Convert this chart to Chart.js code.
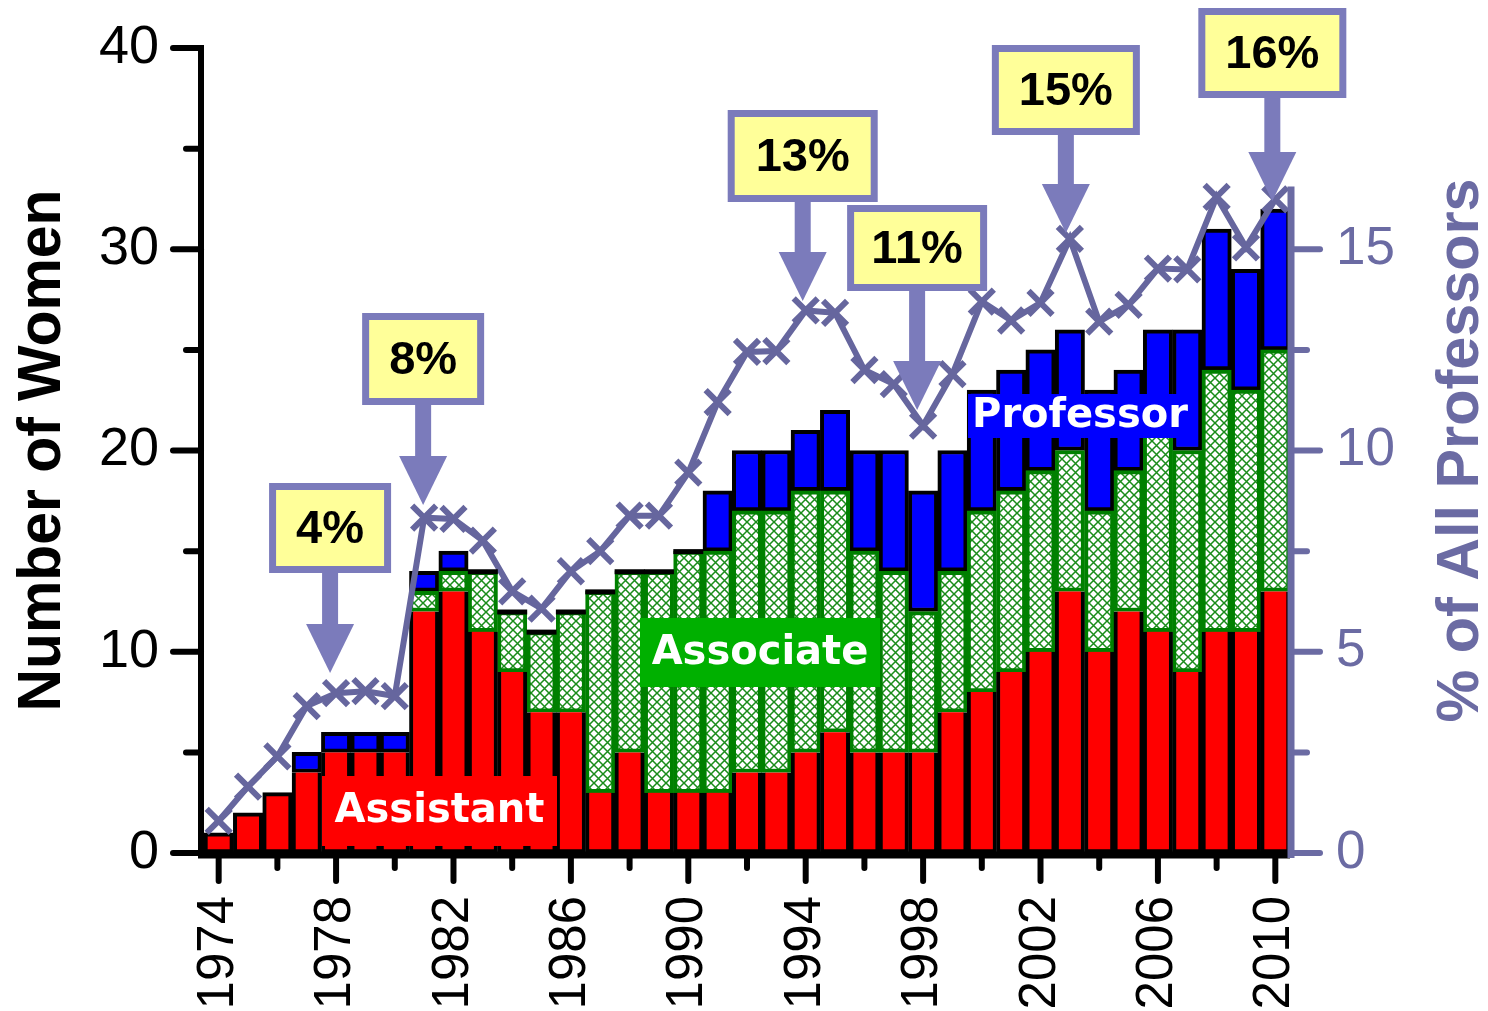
<!doctype html>
<html lang="en">
  <head>
    <meta charset="utf-8">
    <title>Women professors 1974-2010</title>
    <style>
      * {
        margin: 0;
        padding: 0;
      }
      body {
        background: #fff;
      }
      .chartBox {
        width: 1488px;
        height: 1011px;
      }
    </style>
  </head>
  <body>
    <div class="chartBox">
      <canvas id="myChart"></canvas>
    </div>

    <script src="https://cdn.jsdelivr.net/npm/chart.js@4.4.1/dist/chart.umd.min.js"></script>

    <script>
    // data block
    const years = [
      '1974', '1975', '1976', '1977', '1978', '1979', '1980', '1981', '1982', '1983',
      '1984', '1985', '1986', '1987', '1988', '1989', '1990', '1991', '1992', '1993',
      '1994', '1995', '1996', '1997', '1998', '1999', '2000', '2001', '2002', '2003',
      '2004', '2005', '2006', '2007', '2008', '2009', '2010'
    ];
    const assistant = [1, 2, 3, 4, 5, 5, 5, 12, 13, 11, 9, 7, 7, 3, 5, 3, 3, 3, 4, 4,
                       5, 6, 5, 5, 5, 7, 8, 9, 10, 13, 10, 12, 11, 9, 11, 11, 13];
    const associate = [0, 0, 0, 0, 0, 0, 0, 1, 1, 3, 3, 4, 5, 10, 9, 11, 12, 12, 13, 13,
                       13, 12, 10, 9, 7, 7, 9, 9, 9, 7, 7, 7, 10, 11, 13, 12, 12];
    const professor = [0, 0, 0, 1, 1, 1, 1, 1, 1, 0, 0, 0, 0, 0, 0, 0, 0, 3, 3, 3,
                       3, 4, 5, 6, 6, 6, 6, 6, 6, 6, 6, 5, 5, 6, 7, 6, 7];
    const percentOfAll = [0.8, 1.65, 2.4, 3.65, 3.97, 4.02, 3.9, 8.33, 8.3, 7.76,
                          6.5, 6.07, 7.0, 7.5, 8.38, 8.38, 9.45, 11.2, 12.45, 12.47,
                          13.48, 13.42, 12.0, 11.65, 10.62, 11.9, 13.7, 13.23, 13.67, 15.26,
                          13.2, 13.62, 14.52, 14.5, 16.3, 15.05, 16.24];
    const leftTicks = [0, 10, 20, 30, 40];
    const rightTicks = [0, 5, 10, 15];

    // callouts: which year they point at and the label text
    const callouts = [
      { year: '1978', text: '4%',  dx: -6, top: 483, w: 122, h: 90, tip: 673 },
      { year: '1981', text: '8%',  dx: -1, top: 313, w: 122, h: 92, tip: 505 },
      { year: '1994', text: '13%', dx: -3, top: 110, w: 150, h: 92, tip: 301 },
      { year: '1998', text: '11%', dx: -6, top: 205, w: 140, h: 86, tip: 410 },
      { year: '2003', text: '15%', dx: -4, top: 45,  w: 148, h: 90, tip: 233 },
      { year: '2010', text: '16%', dx: -3, top: 8,   w: 148, h: 90, tip: 201 }
    ];

    const SLATE = '#6b6ba3';
    const LINE = '#66669e';
    const EDGE = '#7b7bbb';

    Chart.defaults.font.family = "'Liberation Sans', Arial, sans-serif";

    // green cross-hatch for the associate bars
    function crossHatch() {
      const n = 9;
      const c = document.createElement('canvas');
      c.width = n;
      c.height = n;
      const p = c.getContext('2d');
      p.fillStyle = '#ffffff';
      p.fillRect(0, 0, n, n);
      p.strokeStyle = '#1a8c1a';
      p.lineWidth = 1.5;
      p.beginPath();
      p.moveTo(-1, -1); p.lineTo(n + 1, n + 1);
      p.moveTo(n + 1, -1); p.lineTo(-1, n + 1);
      p.stroke();
      return p.createPattern(c, 'repeat');
    }

    const data = {
      labels: years,
      datasets: [{
        type: 'line',
        label: '% of All Professors',
        data: percentOfAll,
        yAxisID: 'y1',
        order: 0,
        borderColor: LINE,
        borderWidth: 6,
        tension: 0,
        pointStyle: 'crossRot',
        pointRadius: 17,
        pointBorderWidth: 6,
        pointBorderColor: LINE,
        pointBackgroundColor: LINE
      }, {
        label: 'Assistant',
        data: assistant,
        order: 1,
        stack: 'a',
        backgroundColor: '#ff0000',
        borderColor: '#000000',
        borderWidth: 4,
        borderSkipped: (ctx) => (associate[ctx.dataIndex] + professor[ctx.dataIndex] === 0 ? false : 'end')
      }, {
        label: 'Associate',
        data: associate,
        order: 1,
        stack: 'a',
        backgroundColor: crossHatch(),
        borderColor: '#008000',
        borderWidth: 4,
        borderSkipped: false
      }, {
        label: 'Professor',
        data: professor,
        order: 1,
        stack: 'a',
        backgroundColor: '#0000ff',
        borderColor: '#000000',
        borderWidth: 4,
        borderSkipped: false
      }]
    };

    // axes, ticks, titles, labels and callouts
    const decorations = {
      id: 'decorations',
      afterDatasetsDraw(chart) {
        const { ctx, chartArea: { left, right, top, bottom }, scales: { x, y, y1 } } = chart;
        ctx.save();

        // black tops on bars without professors
        ctx.fillStyle = '#000';
        years.forEach((yr, i) => {
          if (professor[i] === 0 && associate[i] > 0) {
            const px = x.getPixelForValue(i);
            const py = y.getPixelForValue(assistant[i] + associate[i]);
            ctx.fillRect(px - 15, py - 2, 30, 5);
          }
        });

        // left axis
        ctx.strokeStyle = '#000';
        ctx.lineCap = 'butt';
        ctx.lineWidth = 6;
        ctx.beginPath();
        ctx.moveTo(left - 3, bottom + 5);
        ctx.lineTo(left - 3, y.getPixelForValue(40) - 3);
        ctx.stroke();
        ctx.lineCap = 'round';
        for (let v = 0; v <= 40; v += 5) {
          const py = y.getPixelForValue(v);
          ctx.beginPath();
          ctx.moveTo(left - 3, py);
          ctx.lineTo(left - (v % 10 === 0 ? 31 : 18), py);
          ctx.stroke();
        }

        // bottom axis
        ctx.lineCap = 'butt';
        ctx.lineWidth = 7;
        ctx.beginPath();
        ctx.moveTo(left - 6, bottom + 2);
        ctx.lineTo(right, bottom + 2);
        ctx.stroke();
        ctx.lineCap = 'round';
        ctx.lineWidth = 6;
        years.forEach((yr, i) => {
          if (i % 2 !== 0) return;
          const px = x.getPixelForValue(i);
          ctx.beginPath();
          ctx.moveTo(px, bottom + 2);
          ctx.lineTo(px, bottom + (i % 4 === 0 ? 28 : 15));
          ctx.stroke();
        });

        // right axis
        ctx.strokeStyle = SLATE;
        ctx.lineCap = 'butt';
        ctx.lineWidth = 7;
        ctx.beginPath();
        ctx.moveTo(right + 1, bottom + 5);
        ctx.lineTo(right + 1, y1.getPixelForValue(16.56));
        ctx.stroke();
        ctx.lineCap = 'round';
        ctx.lineWidth = 6;
        for (let v = 0; v <= 15; v += 2.5) {
          const py = y1.getPixelForValue(v);
          ctx.beginPath();
          ctx.moveTo(right + 1, py);
          ctx.lineTo(right + (v % 5 === 0 ? 30 : 17), py);
          ctx.stroke();
        }

        // axis titles
        const title = (text, cx, font, color, length) => {
          ctx.save();
          ctx.translate(cx, (top + bottom) / 2);
          ctx.rotate(-Math.PI / 2);
          ctx.font = font;
          const w = ctx.measureText(text).width;
          ctx.scale(length / w, 1);
          ctx.fillStyle = color;
          ctx.textAlign = 'center';
          ctx.textBaseline = 'middle';
          ctx.fillText(text, 0, 0);
          ctx.restore();
        };
        title('Number of Women', 43, "bold 62px 'Liberation Sans', Arial, sans-serif", '#000', 522);
        title('% of All Professors', 1461, "bold 60px 'Liberation Sans', Arial, sans-serif", SLATE, 544);

        // rank labels
        const tag = (text, bx, by, bw, bh, fill) => {
          if (fill) {
            ctx.fillStyle = fill;
            ctx.fillRect(bx, by, bw, bh);
          }
          ctx.fillStyle = '#fff';
          ctx.font = "bold 40px 'DejaVu Sans', sans-serif";
          ctx.textAlign = 'center';
          ctx.textBaseline = 'middle';
          ctx.fillText(text, bx + bw / 2, by + bh / 2 + 1);
        };
        tag('Assistant', 322, 776, 235, 70, '#ff0000');
        tag('Associate', 640, 618, 240, 69, '#00b000');
        tag('Professor', 968, 394, 224, 44, '#0000ff');

        // callout boxes with arrows
        callouts.forEach(c => {
          const cx = x.getPixelForValue(years.indexOf(c.year)) + c.dx;
          const boxBottom = c.top + c.h;
          ctx.fillStyle = EDGE;
          ctx.fillRect(cx - 8, boxBottom - 2, 16, c.tip - 48 - boxBottom + 2);
          ctx.beginPath();
          ctx.moveTo(cx - 24, c.tip - 49);
          ctx.lineTo(cx + 24, c.tip - 49);
          ctx.lineTo(cx, c.tip);
          ctx.closePath();
          ctx.fill();
          ctx.fillRect(cx - c.w / 2, c.top, c.w, c.h);
          ctx.fillStyle = '#ffff99';
          ctx.fillRect(cx - c.w / 2 + 7, c.top + 7, c.w - 14, c.h - 14);
          ctx.fillStyle = '#000';
          ctx.font = "bold 47px 'Liberation Sans', Arial, sans-serif";
          ctx.textAlign = 'center';
          ctx.textBaseline = 'middle';
          ctx.fillText(c.text, cx, c.top + c.h / 2 + 2);
        });

        ctx.restore();
      }
    };

    // config block
    const config = {
      type: 'bar',
      data: data,
      options: {
        responsive: true,
        maintainAspectRatio: false,
        animation: false,
        layout: {
          padding: { top: 48, left: 0, right: 0, bottom: 0 }
        },
        datasets: {
          bar: {
            barPercentage: 1,
            categoryPercentage: 1
          }
        },
        plugins: {
          legend: { display: false },
          tooltip: { enabled: false }
        },
        scales: {
          x: {
            stacked: true,
            offset: true,
            grid: { display: false, drawTicks: true, tickLength: 28 },
            border: { display: false },
            ticks: {
              autoSkip: false,
              minRotation: 90,
              maxRotation: 90,
              padding: 15,
              color: '#000',
              font: { size: 51 },
              callback: (val, i) => (i % 4 === 0 ? years[i] : '')
            },
            afterFit: (scale) => { scale.height = 158; }
          },
          y: {
            stacked: true,
            position: 'left',
            min: 0,
            max: 40,
            grid: { display: false, drawTicks: true, tickLength: 31 },
            border: { display: false },
            ticks: {
              stepSize: 10,
              padding: 14,
              color: '#000',
              font: { size: 54 },
              callback: (v) => (leftTicks.includes(v) ? v : '')
            },
            afterFit: (scale) => { scale.width = 204; }
          },
          y1: {
            position: 'right',
            min: 0,
            max: 20,
            grid: { display: false, drawTicks: true, tickLength: 30 },
            border: { display: false },
            ticks: {
              stepSize: 5,
              padding: 16,
              color: SLATE,
              font: { size: 53 },
              callback: (v) => (rightTicks.includes(v) ? v : '')
            },
            afterFit: (scale) => { scale.width = 198; }
          }
        }
      },
      plugins: [decorations]
    };

    // init render block
    const myChart = new Chart(
      document.getElementById('myChart'),
      config
    );
    </script>
  </body>
</html>
